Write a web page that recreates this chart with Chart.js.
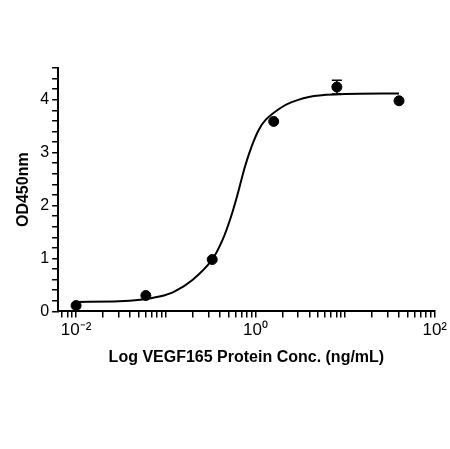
<!DOCTYPE html>
<html><head><meta charset="utf-8">
<script src="https://cdn.jsdelivr.net/npm/chart.js@4"></script>
<style>html,body{margin:0;background:#fff}#w{width:450px;height:449px}</style>
</head><body><div id="w"><canvas id="c"></canvas></div>
<script>
const concX = [0.01, 0.06, 0.33, 1.6, 8.1, 40];
const odY = [0.11, 0.30, 0.98, 3.59, 4.24, 3.98];
const odErr = [0, 0, 0, 0, 0.13, 0];
const fitX = [0.01, 0.03, 0.052, 0.085, 0.126, 0.2, 0.33, 0.43, 0.53, 0.63, 0.76, 0.9, 1.08, 1.3, 1.85, 2.5, 4.5, 10, 40];
const fitY = [0.18, 0.19, 0.22, 0.28, 0.38, 0.6, 0.98, 1.35, 1.77, 2.2, 2.72, 3.1, 3.42, 3.62, 3.83, 3.95, 4.07, 4.11, 4.12];
const xMajor = [0.01, 1, 100];
const xMajorLabels = ['10\u207B\u00B2', '10\u2070', '10\u00B2'];

const errPlugin = {
  id: 'err',
  afterDatasetsDraw(chart) {
    const ctx = chart.ctx, xs = chart.scales.x, ys = chart.scales.y;
    ctx.save(); ctx.strokeStyle = '#000'; ctx.lineWidth = 1.5;
    concX.forEach((x, i) => {
      if (!odErr[i]) return;
      const px = xs.getPixelForValue(x);
      const top = ys.getPixelForValue(odY[i] + odErr[i]);
      const bot = ys.getPixelForValue(odY[i] - odErr[i]);
      ctx.beginPath(); ctx.moveTo(px, top); ctx.lineTo(px, bot);
      ctx.moveTo(px - 5, top); ctx.lineTo(px + 5, top);
      ctx.moveTo(px - 5, bot); ctx.lineTo(px + 5, bot); ctx.stroke();
    });
    ctx.restore();
  }
};

new Chart(document.getElementById('c'), {
  type: 'scatter',
  data: { datasets: [
    { data: concX.map((x, i) => ({x, y: odY[i]})), pointRadius: 5, pointBackgroundColor: '#000', pointBorderColor: '#000', showLine: false },
    { data: fitX.map((x, i) => ({x, y: fitY[i]})), pointRadius: 0, showLine: true, borderColor: '#000', borderWidth: 2, tension: 0.3 }
  ]},
  options: {
    responsive: true, maintainAspectRatio: false, animation: false,
    layout: { padding: { left: 10, right: 12, top: 68, bottom: 78 } },
    plugins: { legend: { display: false }, tooltip: { enabled: false } },
    scales: {
      x: {
        type: 'logarithmic', min: 0.0063, max: 100,
        afterBuildTicks(s) {
          const t = [];
          for (let e = -3; e <= 1; e++) for (let m = 1; m <= 9; m++) {
            const v = m * Math.pow(10, e);
            if (v >= 0.0063 && v <= 100) t.push({value: v});
          }
          t.push({value: 100});
          s.ticks = t;
        },
        ticks: { autoSkip: false, maxRotation: 0, color: '#000', font: { family: 'Liberation Sans', size: 17 },
          callback(v) { const i = xMajor.findIndex(m => Math.abs(m - v) / m < 1e-6); return i >= 0 ? xMajorLabels[i] : ''; } },
        grid: { display: true, drawOnChartArea: false, drawTicks: true, tickLength: 6, color: '#000', lineWidth: 1.5 },
        border: { color: '#000', width: 2 },
        title: { display: true, text: 'Log VEGF165 Protein Conc. (ng/mL)', color: '#000', font: { family: 'Liberation Sans', size: 16, weight: 'bold' }, padding: { top: 4 } }
      },
      y: {
        min: 0, max: 4.6,
        ticks: { stepSize: 0.2, autoSkip: false, color: '#000', font: { family: 'Liberation Sans', size: 16 },
          callback(v) { return Math.abs(v - Math.round(v)) < 1e-6 ? String(Math.round(v)) : ''; } },
        grid: { display: true, drawOnChartArea: false, drawTicks: true, tickLength: 6, color: '#000', lineWidth: 1.5 },
        border: { color: '#000', width: 2 },
        title: { display: true, text: 'OD450nm', color: '#000', font: { family: 'Liberation Sans', size: 16, weight: 'bold' } }
      }
    }
  },
  plugins: [errPlugin]
});
</script></body></html>
